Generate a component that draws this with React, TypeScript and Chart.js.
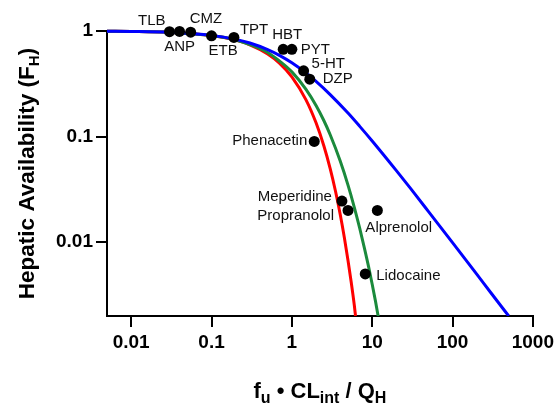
import React, { useEffect, useRef } from "react";
import { Chart, registerables } from "chart.js";

Chart.register(...registerables);

const FONT = "'Liberation Sans', Arial, Helvetica, sans-serif";

// Axis ticks
const xTicks = [0.01, 0.1, 1, 10, 100, 1000];
const yTicks = [0.01, 0.1, 1];

// Well-stirred model (blue)
const blueX = [0.005, 0.01, 0.03, 0.1, 0.2, 0.3, 0.5, 0.7, 1, 1.5, 2, 3, 5, 7, 10, 20, 30, 50, 100, 200, 300, 500];
const blueY = [0.995, 0.99, 0.971, 0.909, 0.833, 0.769, 0.667, 0.588, 0.5, 0.4, 0.333, 0.25, 0.167, 0.125, 0.0909, 0.0476, 0.0323, 0.0196, 0.0099, 0.00498, 0.00332, 0.002];

// Dispersion model (green)
const greenX = [0.005, 0.01, 0.03, 0.1, 0.2, 0.3, 0.5, 0.7, 1, 1.5, 2, 2.5, 3, 4, 5, 6, 7, 8, 9, 10, 11, 12];
const greenY = [0.995, 0.99, 0.97, 0.905, 0.823, 0.745, 0.626, 0.52, 0.41, 0.28, 0.197, 0.142, 0.104, 0.0586, 0.0347, 0.0213, 0.0135, 0.0088, 0.0059, 0.004, 0.00275, 0.0019];

// Parallel-tube model (red)
const redX = [0.005, 0.01, 0.03, 0.1, 0.2, 0.3, 0.5, 0.7, 1, 1.5, 2, 2.5, 3, 3.5, 4, 4.5, 5, 5.5, 6, 6.2];
const redY = [0.995, 0.99, 0.97, 0.905, 0.819, 0.741, 0.607, 0.497, 0.368, 0.223, 0.135, 0.082, 0.0498, 0.0302, 0.0183, 0.0111, 0.0067, 0.0041, 0.0025, 0.002];

// Drugs
const drugNames = ["TLB", "ANP", "CMZ", "ETB", "TPT", "HBT", "PYT", "5-HT", "DZP", "Phenacetin", "Meperidine", "Propranolol", "Alprenolol", "Lidocaine"];
const drugX = [0.03, 0.04, 0.055, 0.1, 0.19, 0.78, 1.0, 1.4, 1.67, 1.9, 4.2, 5.0, 11.6, 8.2];
const drugY = [0.985, 0.99, 0.975, 0.9, 0.87, 0.67, 0.67, 0.42, 0.35, 0.09, 0.0245, 0.02, 0.02, 0.005];

// Label placement (style): dx, dy, align
const labelStyle: [number, number, CanvasTextAlign][] = [
  [-4, -11, "right"],
  [0, 15, "center"],
  [-1, -13, "left"],
  [-3, 15, "left"],
  [6, -8, "left"],
  [-11, -15, "left"],
  [9, 0, "left"],
  [8, -7, "left"],
  [13, 0, "left"],
  [-7, -1, "right"],
  [-10, -4, "right"],
  [-14, 5, "right"],
  [-12, 17, "left"],
  [11, 2, "left"],
];

const toPts = (xs: number[], ys: number[]) => xs.map((x, i) => ({ x, y: ys[i] }));

type Seg = { t: string; sub?: boolean };

function drawSegs(ctx: CanvasRenderingContext2D, segs: Seg[], cx: number, baseY: number, size: number, subSize: number, subShift: number) {
  const mainFont = `bold ${size}px ${FONT}`;
  const subFont = `bold ${subSize}px ${FONT}`;
  let total = 0;
  const widths = segs.map((s) => {
    ctx.font = s.sub ? subFont : mainFont;
    const w = ctx.measureText(s.t).width;
    total += w;
    return w;
  });
  let x = cx - total / 2;
  ctx.textAlign = "left";
  ctx.textBaseline = "alphabetic";
  segs.forEach((s, i) => {
    ctx.font = s.sub ? subFont : mainFont;
    ctx.fillText(s.t, x, s.sub ? baseY + subShift : baseY);
    x += widths[i];
  });
}

const labelsPlugin = {
  id: "drugLabels",
  afterDatasetsDraw(chart: any) {
    const ctx = chart.ctx as CanvasRenderingContext2D;
    const meta = chart.getDatasetMeta(0);
    ctx.save();
    ctx.fillStyle = "#111";
    ctx.font = `15px ${FONT}`;
    ctx.textBaseline = "middle";
    meta.data.forEach((el: any, i: number) => {
      const [dx, dy, align] = labelStyle[i];
      ctx.textAlign = align;
      ctx.fillText(drugNames[i], el.x + dx, el.y + dy);
    });
    ctx.restore();
  },
};

const titlesPlugin = {
  id: "axisTitles",
  afterDraw(chart: any) {
    const ctx = chart.ctx as CanvasRenderingContext2D;
    const a = chart.chartArea;
    ctx.save();
    ctx.fillStyle = "#000";
    // x title
    drawSegs(
      ctx,
      [{ t: "f" }, { t: "u", sub: true }, { t: " \u2022 CL" }, { t: "int", sub: true }, { t: " / Q" }, { t: "H", sub: true }],
      (a.left + a.right) / 2,
      398,
      22,
      16,
      5
    );
    // y title
    ctx.translate(34, (a.top + a.bottom) / 2);
    ctx.rotate(-Math.PI / 2);
    drawSegs(
      ctx,
      [{ t: "Hepatic Availability (F" }, { t: "H", sub: true }, { t: ")" }],
      0,
      0,
      22.5,
      15,
      5
    );
    ctx.restore();
  },
};

export default function App() {
  const ref = useRef<HTMLCanvasElement | null>(null);
  useEffect(() => {
    if (!ref.current) return;
    const axisCommon = {
      type: "logarithmic" as const,
      grid: {
        drawOnChartArea: false,
        drawTicks: true,
        color: "#000",
        lineWidth: 2,
        tickLength: 11,
        tickWidth: 2,
        tickColor: "#000",
      },
      border: { display: true, color: "#000", width: 2 },
    };
    const chart = new Chart(ref.current, {
      type: "scatter",
      data: {
        datasets: [
          {
            data: toPts(drugX, drugY),
            backgroundColor: "#000",
            borderWidth: 0,
            pointRadius: 5.5,
            pointHoverRadius: 5.5,
            showLine: false,
            clip: false as any,
          },
          {
            data: toPts(blueX, blueY),
            borderColor: "#0000ff",
            borderWidth: 3,
            pointRadius: 0,
            showLine: true,
            cubicInterpolationMode: "monotone",
            clip: { left: 2, top: 6, right: 2, bottom: 0 } as any,
          },
          {
            data: toPts(greenX, greenY),
            borderColor: "#1b8a3c",
            borderWidth: 3,
            pointRadius: 0,
            showLine: true,
            cubicInterpolationMode: "monotone",
            clip: { left: 2, top: 6, right: 2, bottom: 0 } as any,
          },
          {
            data: toPts(redX, redY),
            borderColor: "#ff0000",
            borderWidth: 3,
            pointRadius: 0,
            showLine: true,
            cubicInterpolationMode: "monotone",
            clip: { left: 2, top: 6, right: 2, bottom: 0 } as any,
          },
        ],
      },
      options: {
        animation: false,
        responsive: false,
        maintainAspectRatio: false,
        layout: { padding: { left: 0, top: 31, right: 23, bottom: 0 } },
        plugins: { legend: { display: false }, tooltip: { enabled: false } },
        scales: {
          x: {
            ...axisCommon,
            position: "bottom",
            min: 0.005,
            max: 1000,
            afterBuildTicks: (s: any) => {
              s.ticks = xTicks.map((v) => ({ value: v }));
            },
            afterFit: (s: any) => {
              s.height = 87;
            },
            ticks: {
              autoSkip: false,
              maxRotation: 0,
              color: "#000",
              padding: 4,
              font: { family: FONT, size: 19, weight: "bold" },
              callback: (v: any) => String(v),
            },
          },
          y: {
            ...axisCommon,
            position: "left",
            min: 0.002,
            max: 1,
            afterBuildTicks: (s: any) => {
              s.ticks = yTicks.map((v) => ({ value: v }));
            },
            afterFit: (s: any) => {
              s.width = 107;
            },
            ticks: {
              autoSkip: false,
              color: "#000",
              padding: 3,
              font: { family: FONT, size: 19, weight: "bold" },
              callback: (v: any) => String(v),
            },
          },
        },
      } as any,
      plugins: [labelsPlugin, titlesPlugin],
    });
    return () => chart.destroy();
  }, []);
  return (
    <div style={{ position: "fixed", left: 0, top: 0, width: 558, height: 403, background: "#fff" }}>
      <canvas ref={ref} width={558} height={403} style={{ display: "block" }} />
    </div>
  );
}
